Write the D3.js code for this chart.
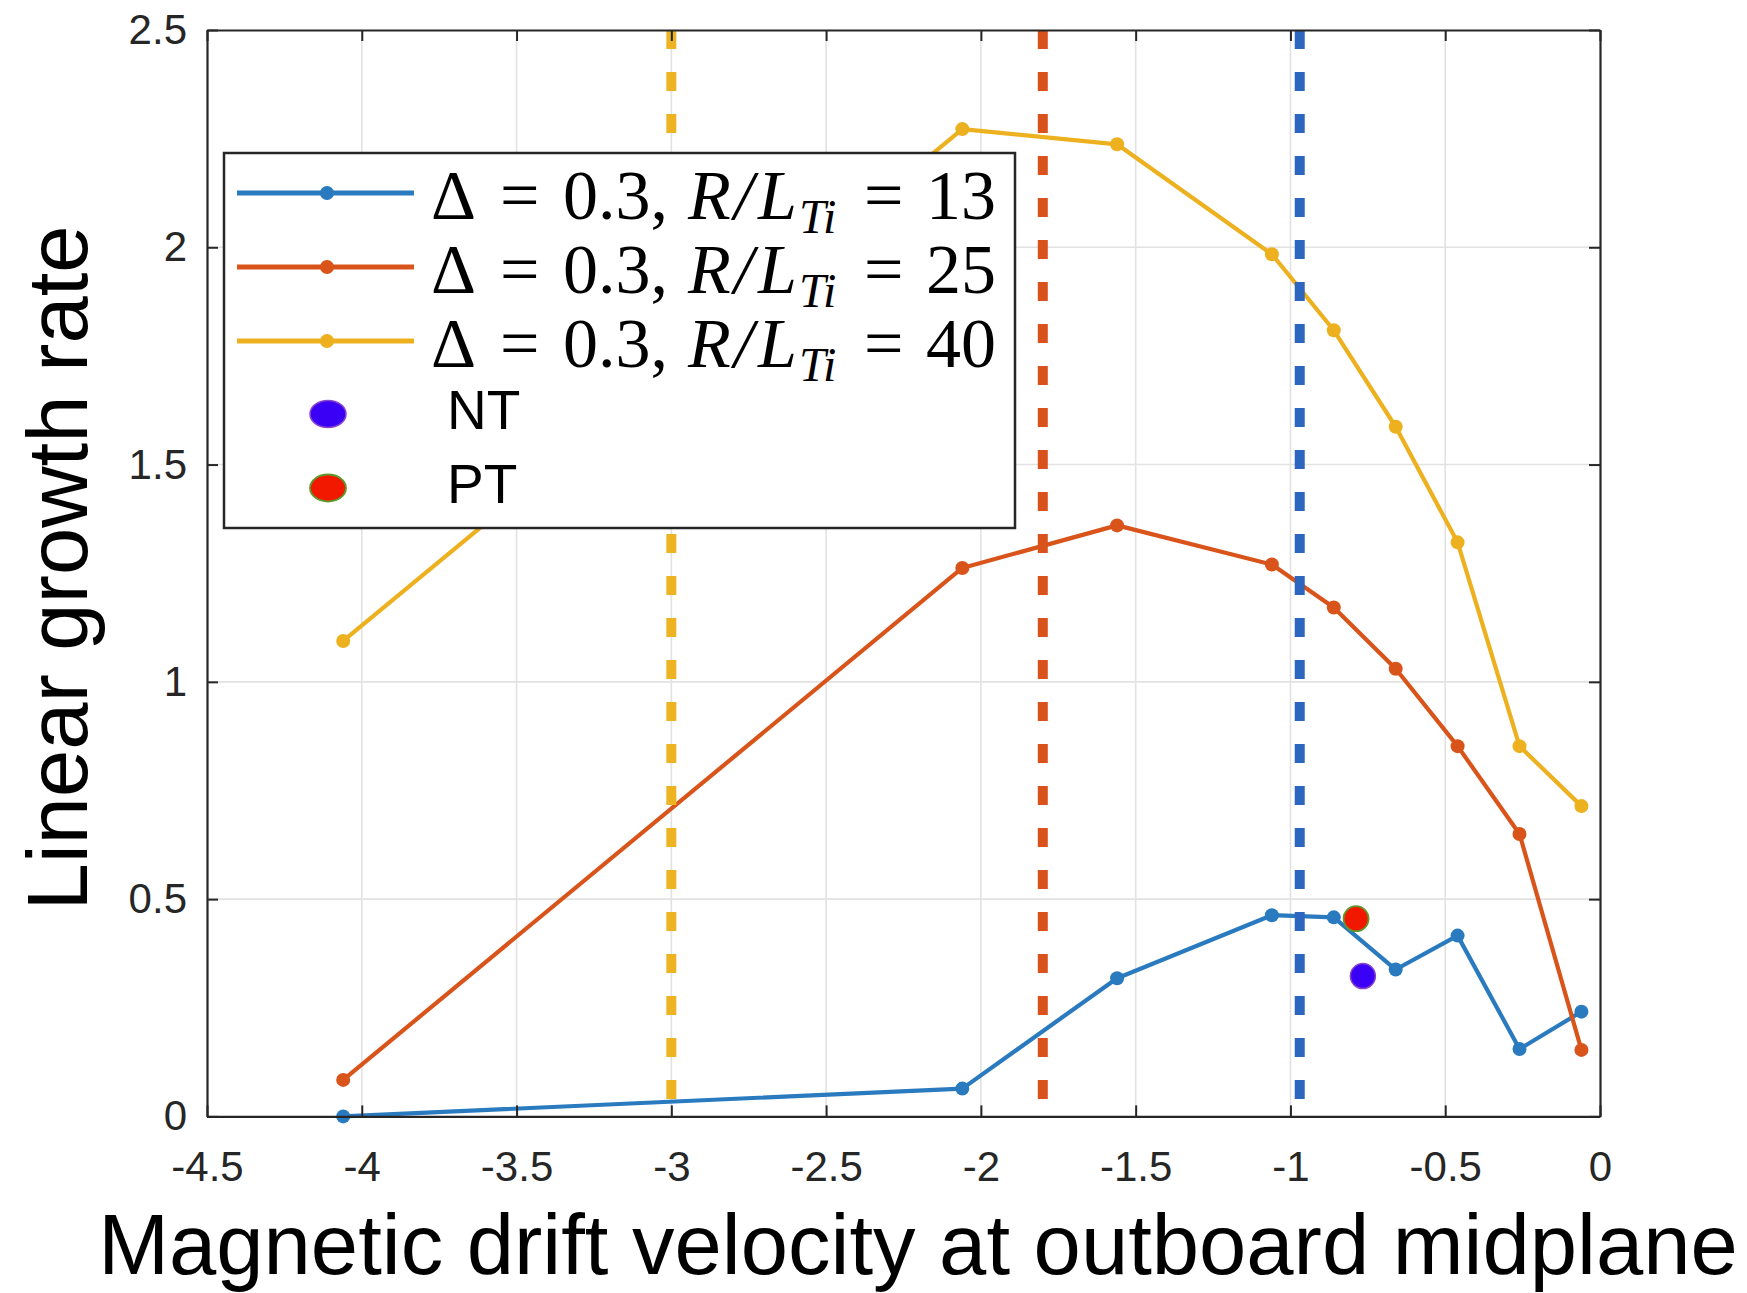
<!DOCTYPE html>
<html>
<head>
<meta charset="utf-8">
<script src="https://cdn.jsdelivr.net/npm/d3@7"></script>
<style>
  html, body { margin: 0; padding: 0; background: #ffffff; }
  svg { display: block; }
</style>
</head>
<body>
<script>
// ---- data ----
const driftVelocity = [-4.06, -2.06, -1.56, -1.06, -0.86, -0.66, -0.46, -0.26, -0.06];
const growthRLTi13 = [0.0, 0.064, 0.318, 0.463, 0.458, 0.338, 0.416, 0.155, 0.241];
const growthRLTi25 = [0.084, 1.262, 1.360, 1.270, 1.171, 1.030, 0.852, 0.650, 0.153];
const growthRLTi40 = [1.094, 2.272, 2.237, 1.984, 1.809, 1.587, 1.321, 0.852, 0.714];
const seriesRLTi = ["13", "25", "40"];
const ntPoint = [-0.766, 0.323];
const ptPoint = [-0.788, 0.455];
const refLineX = [-3.0, -1.8, -0.97];
const xTickValues = [-4.5, -4, -3.5, -3, -2.5, -2, -1.5, -1, -0.5, 0];
const xTickLabels = ["-4.5", "-4", "-3.5", "-3", "-2.5", "-2", "-1.5", "-1", "-0.5", "0"];
const yTickValues = [0, 0.5, 1, 1.5, 2, 2.5];
const yTickLabels = ["0", "0.5", "1", "1.5", "2", "2.5"];
const xTitle = "Magnetic drift velocity at outboard midplane";
const yTitle = "Linear growth rate";

// ---- styles ----
const W = 1747, H = 1293;
const lineColors = ["#2a7abf", "#d9541a", "#edb120"];
const refColors = ["#edb323", "#da521b", "#2d66be"];
const axisColor = "#262626";
const gridColor = "#e2e2e2";

const svg = d3.select("body").append("svg").attr("width", W).attr("height", H);

const x = d3.scaleLinear().domain([-4.5, 0]).range([207, 1600]);
const y = d3.scaleLinear().domain([0, 2.5]).range([1116.4, 30]);

// grid
const grid = svg.append("g");
grid.selectAll("line.gx").data(xTickValues.slice(1, -1)).enter().append("line")
  .attr("x1", d => x(d)).attr("x2", d => x(d))
  .attr("y1", y(0)).attr("y2", y(2.5))
  .attr("stroke", gridColor).attr("stroke-width", 1.6);
grid.selectAll("line.gy").data(yTickValues.slice(1, -1)).enter().append("line")
  .attr("y1", d => y(d)).attr("y2", d => y(d))
  .attr("x1", x(-4.5)).attr("x2", x(0))
  .attr("stroke", gridColor).attr("stroke-width", 1.6);

// series
const series = [growthRLTi13, growthRLTi25, growthRLTi40];
const lineGen = d3.line().x(d => x(d[0])).y(d => y(d[1]));
series.forEach((vals, i) => {
  const pts = driftVelocity.map((v, k) => [v, vals[k]]);
  svg.append("path").datum(pts)
    .attr("d", lineGen).attr("fill", "none")
    .attr("stroke", lineColors[i]).attr("stroke-width", 4.2)
    .attr("stroke-linejoin", "round");
  svg.append("g").selectAll("circle").data(pts).enter().append("circle")
    .attr("cx", d => x(d[0])).attr("cy", d => y(d[1])).attr("r", 7)
    .attr("fill", lineColors[i]);
});

// vertical dashed reference lines
svg.append("g").selectAll("line").data(refLineX).enter().append("line")
  .attr("x1", d => x(d)).attr("x2", d => x(d))
  .attr("y1", y(2.5)).attr("y2", y(0) - 2)
  .attr("stroke", (d, i) => refColors[i]).attr("stroke-width", 10)
  .attr("stroke-dasharray", "19,23");

// NT / PT points
svg.append("circle").attr("cx", x(ntPoint[0])).attr("cy", y(ntPoint[1])).attr("r", 12.5)
  .attr("fill", "#3a00f6").attr("stroke", "#8c45c8").attr("stroke-width", 1.5);
svg.append("circle").attr("cx", x(ptPoint[0])).attr("cy", y(ptPoint[1])).attr("r", 12.5)
  .attr("fill", "#f21800").attr("stroke", "#5f9a2c").attr("stroke-width", 1.8);

// axes (box with inward ticks)
function styleAxis(g) {
  g.select(".domain").attr("stroke", axisColor).attr("stroke-width", 2.2);
  g.selectAll(".tick line").attr("stroke", axisColor).attr("stroke-width", 2);
  g.selectAll(".tick text").attr("fill", "#262626")
    .attr("font-family", "'Liberation Sans', Arial, sans-serif").attr("font-size", 42);
}
const xb = svg.append("g").attr("transform", `translate(0,${y(0)})`)
  .call(d3.axisBottom(x).tickValues(xTickValues).tickSize(-11).tickSizeOuter(0).tickPadding(35)
    .tickFormat((d, i) => xTickLabels[i]));
styleAxis(xb);
const xt = svg.append("g").attr("transform", `translate(0,${y(2.5)})`)
  .call(d3.axisTop(x).tickValues(xTickValues).tickSize(-11).tickSizeOuter(0).tickFormat(""));
styleAxis(xt);
const yl = svg.append("g").attr("transform", `translate(${x(-4.5)},0)`)
  .call(d3.axisLeft(y).tickValues(yTickValues).tickSize(-11).tickSizeOuter(0).tickPadding(20)
    .tickFormat((d, i) => yTickLabels[i]));
styleAxis(yl);
const yr = svg.append("g").attr("transform", `translate(${x(0)},0)`)
  .call(d3.axisRight(y).tickValues(yTickValues).tickSize(-11).tickSizeOuter(0).tickFormat(""));
styleAxis(yr);

// axis titles
svg.append("text").attr("x", 918).attr("y", 1274).attr("text-anchor", "middle")
  .attr("font-family", "'Liberation Sans', Arial, sans-serif").attr("font-size", 85)
  .attr("fill", "#000").text(xTitle);
svg.append("text").attr("transform", "translate(87,568) rotate(-90)").attr("text-anchor", "middle")
  .attr("font-family", "'Liberation Sans', Arial, sans-serif").attr("font-size", 85)
  .attr("fill", "#000").text(yTitle);

// legend
const leg = svg.append("g");
leg.append("rect").attr("x", 224).attr("y", 153).attr("width", 791).attr("height", 375)
  .attr("fill", "#fff").attr("stroke", axisColor).attr("stroke-width", 2.5);
const rowY = [193, 267, 341, 414, 488];
seriesRLTi.forEach((lab, i) => {
  const cy = rowY[i];
  leg.append("line").attr("x1", 237).attr("x2", 414).attr("y1", cy).attr("y2", cy)
    .attr("stroke", lineColors[i]).attr("stroke-width", 5);
  leg.append("circle").attr("cx", 327).attr("cy", cy).attr("r", 7).attr("fill", lineColors[i]);
  const t = leg.append("text").attr("y", cy + 26)
    .attr("font-family", "'Liberation Serif', 'Times New Roman', serif").attr("font-size", 70)
    .attr("fill", "#000");
  t.append("tspan").attr("x", 431).text("Δ");
  t.append("tspan").attr("x", 500).text("=");
  t.append("tspan").attr("x", 563).text("0.3,");
  t.append("tspan").attr("x", 688).attr("font-style", "italic").text("R");
  t.append("tspan").attr("x", 734).attr("font-style", "italic").text("/");
  t.append("tspan").attr("x", 758).attr("font-style", "italic").text("L");
  t.append("tspan").attr("x", 799).attr("dy", 14).attr("font-style", "italic").attr("font-size", 48).text("Ti");
  t.append("tspan").attr("x", 864).attr("dy", -14).text("=");
  t.append("tspan").attr("x", 926).text(lab);
});
// NT / PT legend entries
leg.append("ellipse").attr("cx", 328).attr("cy", rowY[3]).attr("rx", 18).attr("ry", 13.5)
  .attr("fill", "#3a00f6").attr("stroke", "#8c45c8").attr("stroke-width", 1.5);
leg.append("ellipse").attr("cx", 328).attr("cy", rowY[4]).attr("rx", 18).attr("ry", 13.5)
  .attr("fill", "#f21800").attr("stroke", "#5f9a2c").attr("stroke-width", 1.8);
[["NT", rowY[3]], ["PT", rowY[4]]].forEach(([lab, cy]) => {
  leg.append("text").attr("x", 447).attr("y", cy + 15)
    .attr("font-family", "'Liberation Sans', Arial, sans-serif").attr("font-size", 55)
    .attr("fill", "#000").text(lab);
});
</script>
</body>
</html>
